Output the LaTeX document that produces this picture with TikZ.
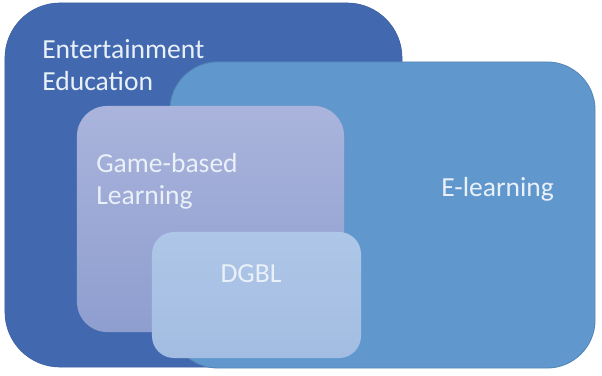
\documentclass[tikz,border=0pt]{standalone}
\usepackage{fontspec}
\newfontfamily\labelfont{Carlito}
\usepackage{tikz}
\usetikzlibrary{positioning, calc, shapes}

\definecolor{eedark}{HTML}{4269B0}
\definecolor{elblue}{HTML}{6098CE}
\definecolor{gbltop}{HTML}{AAB4DC}
\definecolor{gblbot}{HTML}{8E9ECF}
\definecolor{dgbltop}{HTML}{AEC6E7}
\definecolor{dgblbot}{HTML}{A3BDE2}
\definecolor{labeltext}{HTML}{EAF0F8}

\begin{document}
\begin{tikzpicture}[x=0.025cm, y=0.025cm,
		setbox/.style={rectangle, inner sep=0pt, outer sep=0pt},
		setlabel/.style={anchor=west, align=left, inner sep=0pt, text=labeltext, font=\labelfont\fontsize{19.6}{23}\selectfont}]
			\useasboundingbox (0,0) rectangle (602,375);
			% the sets, from the largest to the smallest
			\node[setbox, fill=eedark, draw=eedark!90!black, line width=0.4pt, rounded corners=1.375cm, minimum width=9.925cm, minimum height=9.1cm] (EE) at (203.5,190) {};
			\node[setbox, fill=elblue, draw=elblue!88!black, line width=0.6pt, rounded corners=1.2cm, minimum width=10.625cm, minimum height=7.65cm] (EL) at (382.5,160) {};
			\node[setbox, top color=gbltop, bottom color=gblbot, rounded corners=0.75cm, minimum width=6.675cm, minimum height=5.65cm] (GBL) at (210.5,156) {};
			\node[setbox, top color=dgbltop, bottom color=dgblbot, rounded corners=0.55cm, minimum width=5.225cm, minimum height=3.15cm] (DGBL) at (256.5,80) {};
			% labels
			\node[setlabel] (EEtext) at (42,310) {Entertainment\\Education};
			\node[setlabel] (GBLtext) at (96,194) {Game-based\\Learning};
			\node[setlabel] (ELtext) at (441,186) {E-learning};
			\node[setlabel, anchor=center] (DGBLtext) at (251,101) {DGBL};
		\end{tikzpicture}
\end{document}
